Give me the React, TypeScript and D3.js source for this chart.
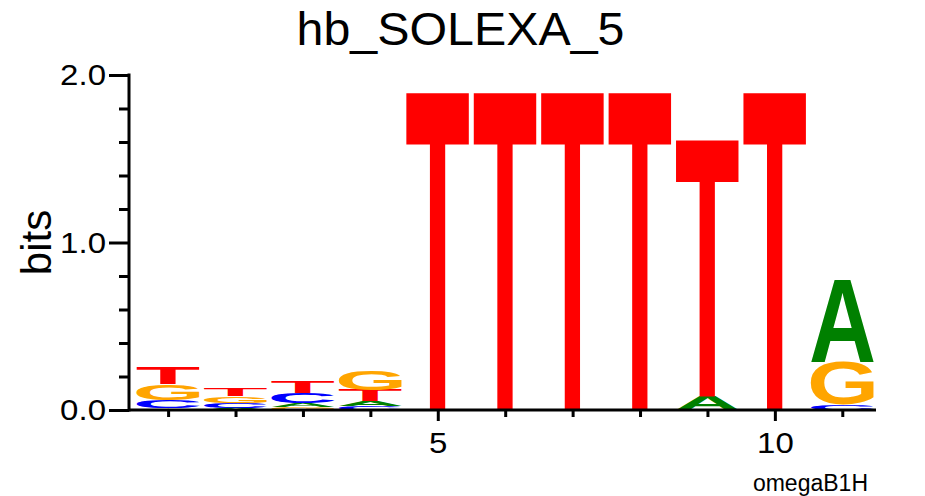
import React, { useEffect, useMemo, useRef } from 'react'
import * as d3 from 'd3'

// positions along the motif
const positions = [1, 2, 3, 4, 5, 6, 7, 8, 9, 10, 11]

// letter heights in bits, one value per position
const bitsA = [0.01, 0.012, 0.025, 0.03, 0, 0, 0, 0, 0.08, 0, 0.49]
const bitsC = [0.05, 0.03, 0.06, 0.025, 0, 0, 0, 0, 0, 0, 0.03]
const bitsG = [0.095, 0.04, 0.018, 0.115, 0, 0, 0, 0, 0, 0, 0.255]
const bitsT = [0.098, 0.048, 0.068, 0.065, 1.91, 1.91, 1.91, 1.91, 1.544, 1.91, 0]

const yMajor = [0, 1, 2]
const yMinor = [0.2, 0.4, 0.6, 0.8, 1.2, 1.4, 1.6, 1.8]
const xMajor = [5, 10]

const title = 'hb_SOLEXA_5'
const yLabel = 'bits'
const footLabel = 'omegaB1H'

const letterColor = { A: '#008000', C: '#0000ff', G: '#ffa500', T: '#ff0000' }
const font = '"Liberation Sans", Arial, Helvetica, sans-serif'
const GLYPH_FS = 200

const width = 925
const height = 496
const margin = { top: 75, right: 49, bottom: 86, left: 129 }

function measureGlyphs() {
	const fallback = {
		A: { l: -1, r: 143, a: 143, d: 0 },
		C: { l: -8, r: 134, a: 146, d: 3 },
		G: { l: -8, r: 145, a: 146, d: 3 },
		T: { l: -4, r: 118, a: 143, d: 0 },
	}
	try {
		const ctx = document.createElement('canvas').getContext('2d')
		if (!ctx) return fallback
		ctx.font = `bold ${GLYPH_FS}px ${font}`
		const out = {}
		for (const l of ['A', 'C', 'G', 'T']) {
			const m = ctx.measureText(l)
			out[l] = { l: m.actualBoundingBoxLeft, r: m.actualBoundingBoxRight, a: m.actualBoundingBoxAscent, d: m.actualBoundingBoxDescent }
		}
		return out
	} catch (e) {
		return fallback
	}
}

const Axes = ({ x, y, plotH }) => {
	const yRef = useRef(null)
	const xRef = useRef(null)

	useEffect(() => {
		const gy = d3.select(yRef.current)
		gy.selectAll('*').remove()
		gy.append('g').call(d3.axisLeft(y).tickValues(yMinor).tickSize(10).tickSizeOuter(0).tickFormat(() => ''))
		gy.append('g').call(d3.axisLeft(y).tickValues(yMajor).tickSize(20).tickSizeOuter(0).tickPadding(3).tickFormat(d3.format('.1f')))
		gy.selectAll('.domain').remove()
		gy.append('line').attr('x1', 0).attr('x2', 0).attr('y1', y(2) - 1.5).attr('y2', y(0) + 1.5)

		const gx = d3.select(xRef.current)
		gx.selectAll('*').remove()
		gx.append('g').call(d3.axisBottom(x).tickValues(positions.filter(p => !xMajor.includes(p))).tickSize(7).tickSizeOuter(0).tickFormat(() => ''))
		gx.append('g').call(d3.axisBottom(x).tickValues(xMajor).tickSize(11).tickSizeOuter(0).tickPadding(11).tickFormat(d3.format('d')))
		gx.selectAll('.domain').remove()
		gx.append('line').attr('x1', x.range()[0]).attr('x2', x.range()[1]).attr('y1', 0).attr('y2', 0)

		for (const g of [gy, gx]) {
			g.selectAll('line').attr('stroke', '#000').attr('stroke-width', 3)
			g.selectAll('text').attr('fill', '#000').style('font-size', '30px').style('font-family', font)
				.each(function () {
					const w = this.getComputedTextLength()
					if (w > 0) {
						this.setAttribute('textLength', String(w * 1.1))
						this.setAttribute('lengthAdjust', 'spacingAndGlyphs')
					}
				})
		}
	}, [x, y])

	return (<>
		<g ref={yRef} transform={`translate(${margin.left}, 0)`} />
		<g ref={xRef} transform={`translate(0, ${margin.top + plotH})`} />
	</>)
}

export default function App() {
	const plotH = height - margin.top - margin.bottom
	const x = d3.scaleLinear().domain([0.42, 11.5]).range([margin.left, width - margin.right])
	const y = d3.scaleLinear().domain([0, 2]).range([margin.top + plotH, margin.top])
	const glyphs = useMemo(measureGlyphs, [])
	const step = x(2) - x(1)
	const letterW = step * 0.936

	const stacks = positions.map((p, i) => {
		const items = [
			{ l: 'A', v: bitsA[i] },
			{ l: 'C', v: bitsC[i] },
			{ l: 'G', v: bitsG[i] },
			{ l: 'T', v: bitsT[i] },
		].filter(d => d.v > 0).sort((a, b) => a.v - b.v)
		let base = 0
		return items.map(d => {
			const y0 = y(base + d.v)
			const y1 = y(base)
			base += d.v
			return { p, l: d.l, top: y0, h: y1 - y0 }
		})
	})

	return (
		<svg width={width} height={height} style={{ position: 'absolute', left: 0, top: 0, background: '#fff' }}>
			<text x={460.5} y={45} textAnchor="middle" fontFamily={font} fontSize={46} textLength={328} lengthAdjust="spacingAndGlyphs" fill="#000">{title}</text>
			<text transform={`translate(51, ${y(1)}) rotate(-90)`} textAnchor="middle" fontFamily={font} fontSize={42} fill="#000">{yLabel}</text>

			{stacks.map(stack => stack.map(d => {
				const m = glyphs[d.l]
				const sx = letterW / (m.l + m.r)
				const sy = d.h / (m.a + m.d)
				const x0 = x(d.p) - letterW / 2
				return (
					<text
						key={`${d.p}-${d.l}`}
						transform={`translate(${x0}, ${d.top}) scale(${sx}, ${sy}) translate(${m.l}, ${m.a})`}
						fontFamily={font}
						fontWeight="bold"
						fontSize={GLYPH_FS}
						fill={letterColor[d.l]}
					>
						{d.l}
					</text>
				)
			}))}

			<Axes x={x} y={y} plotH={plotH} />

			<text x={868} y={491} textAnchor="end" fontFamily={font} fontSize={23} fill="#000">{footLabel}</text>
		</svg>
	)
}
